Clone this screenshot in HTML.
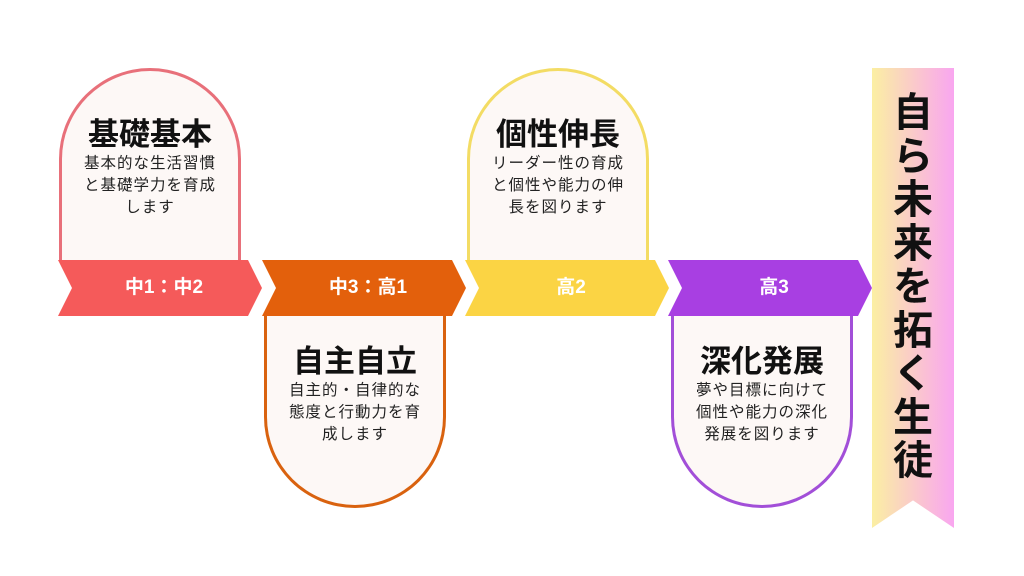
<!DOCTYPE html>
<html><head><meta charset="utf-8"><style>
body{margin:0;width:1024px;height:576px;background:#fff;position:relative;overflow:hidden;font-family:"Liberation Sans","Noto Sans CJK JP",sans-serif}
.card{position:absolute;width:182px;background:#fdf8f6;border:3px solid;box-sizing:border-box;text-align:center;color:#222}
.up{top:68px;height:194px;border-radius:91px 91px 0 0;border-bottom:none}
.dn{top:314px;height:194px;border-radius:0 0 91px 91px;border-top:none}
.t{font-size:31px;font-weight:bold;color:#111;line-height:36px}
.b{font-size:15.5px;line-height:22px;letter-spacing:1px}
.band{position:absolute;top:260px;height:56px;width:204px;clip-path:polygon(0 0,190px 0,204px 50%,190px 100%,0 100%,14px 50%);color:#fff;font-weight:bold;font-size:19px;line-height:56px;text-align:center;box-sizing:border-box;padding-left:8px}
.rib{position:absolute;left:872px;top:68px;width:82px;height:460px;background:linear-gradient(90deg,#fbefa3,#f9a6f0);clip-path:polygon(0 0,100% 0,100% 100%,50% 94%,0 100%)}
.rt{position:absolute;left:872px;top:92px;width:82px;text-align:center;font-size:40px;font-weight:bold;line-height:43.5px;color:#111}
</style></head><body>
<div class="card up" style="left:59px;border-color:#e8707a"><div style="height:46px"></div><div class="t">基礎基本</div><div class="b">基本的な生活習慣<br>と基礎学力を育成<br>します</div></div>
<div class="card dn" style="left:264px;border-color:#d9620f"><div style="height:30px"></div><div class="t">自主自立</div><div class="b">自主的・自律的な<br>態度と行動力を育<br>成します</div></div>
<div class="card up" style="left:467px;border-color:#f3dc64"><div style="height:46px"></div><div class="t">個性伸長</div><div class="b">リーダー性の育成<br>と個性や能力の伸<br>長を図ります</div></div>
<div class="card dn" style="left:671px;border-color:#a24fd8"><div style="height:30px"></div><div class="t">深化発展</div><div class="b">夢や目標に向けて<br>個性や能力の深化<br>発展を図ります</div></div>
<div class="band" style="left:58px;background:#f55a5a">中1：中2</div>
<div class="band" style="left:262px;background:#e3600c">中3：高1</div>
<div class="band" style="left:465px;background:#fbd444">高2</div>
<div class="band" style="left:668px;background:#a83fe2">高3</div>
<div class="rib"></div>
<div class="rt">自<br>ら<br>未<br>来<br>を<br>拓<br>く<br>生<br>徒</div>
</body></html>
